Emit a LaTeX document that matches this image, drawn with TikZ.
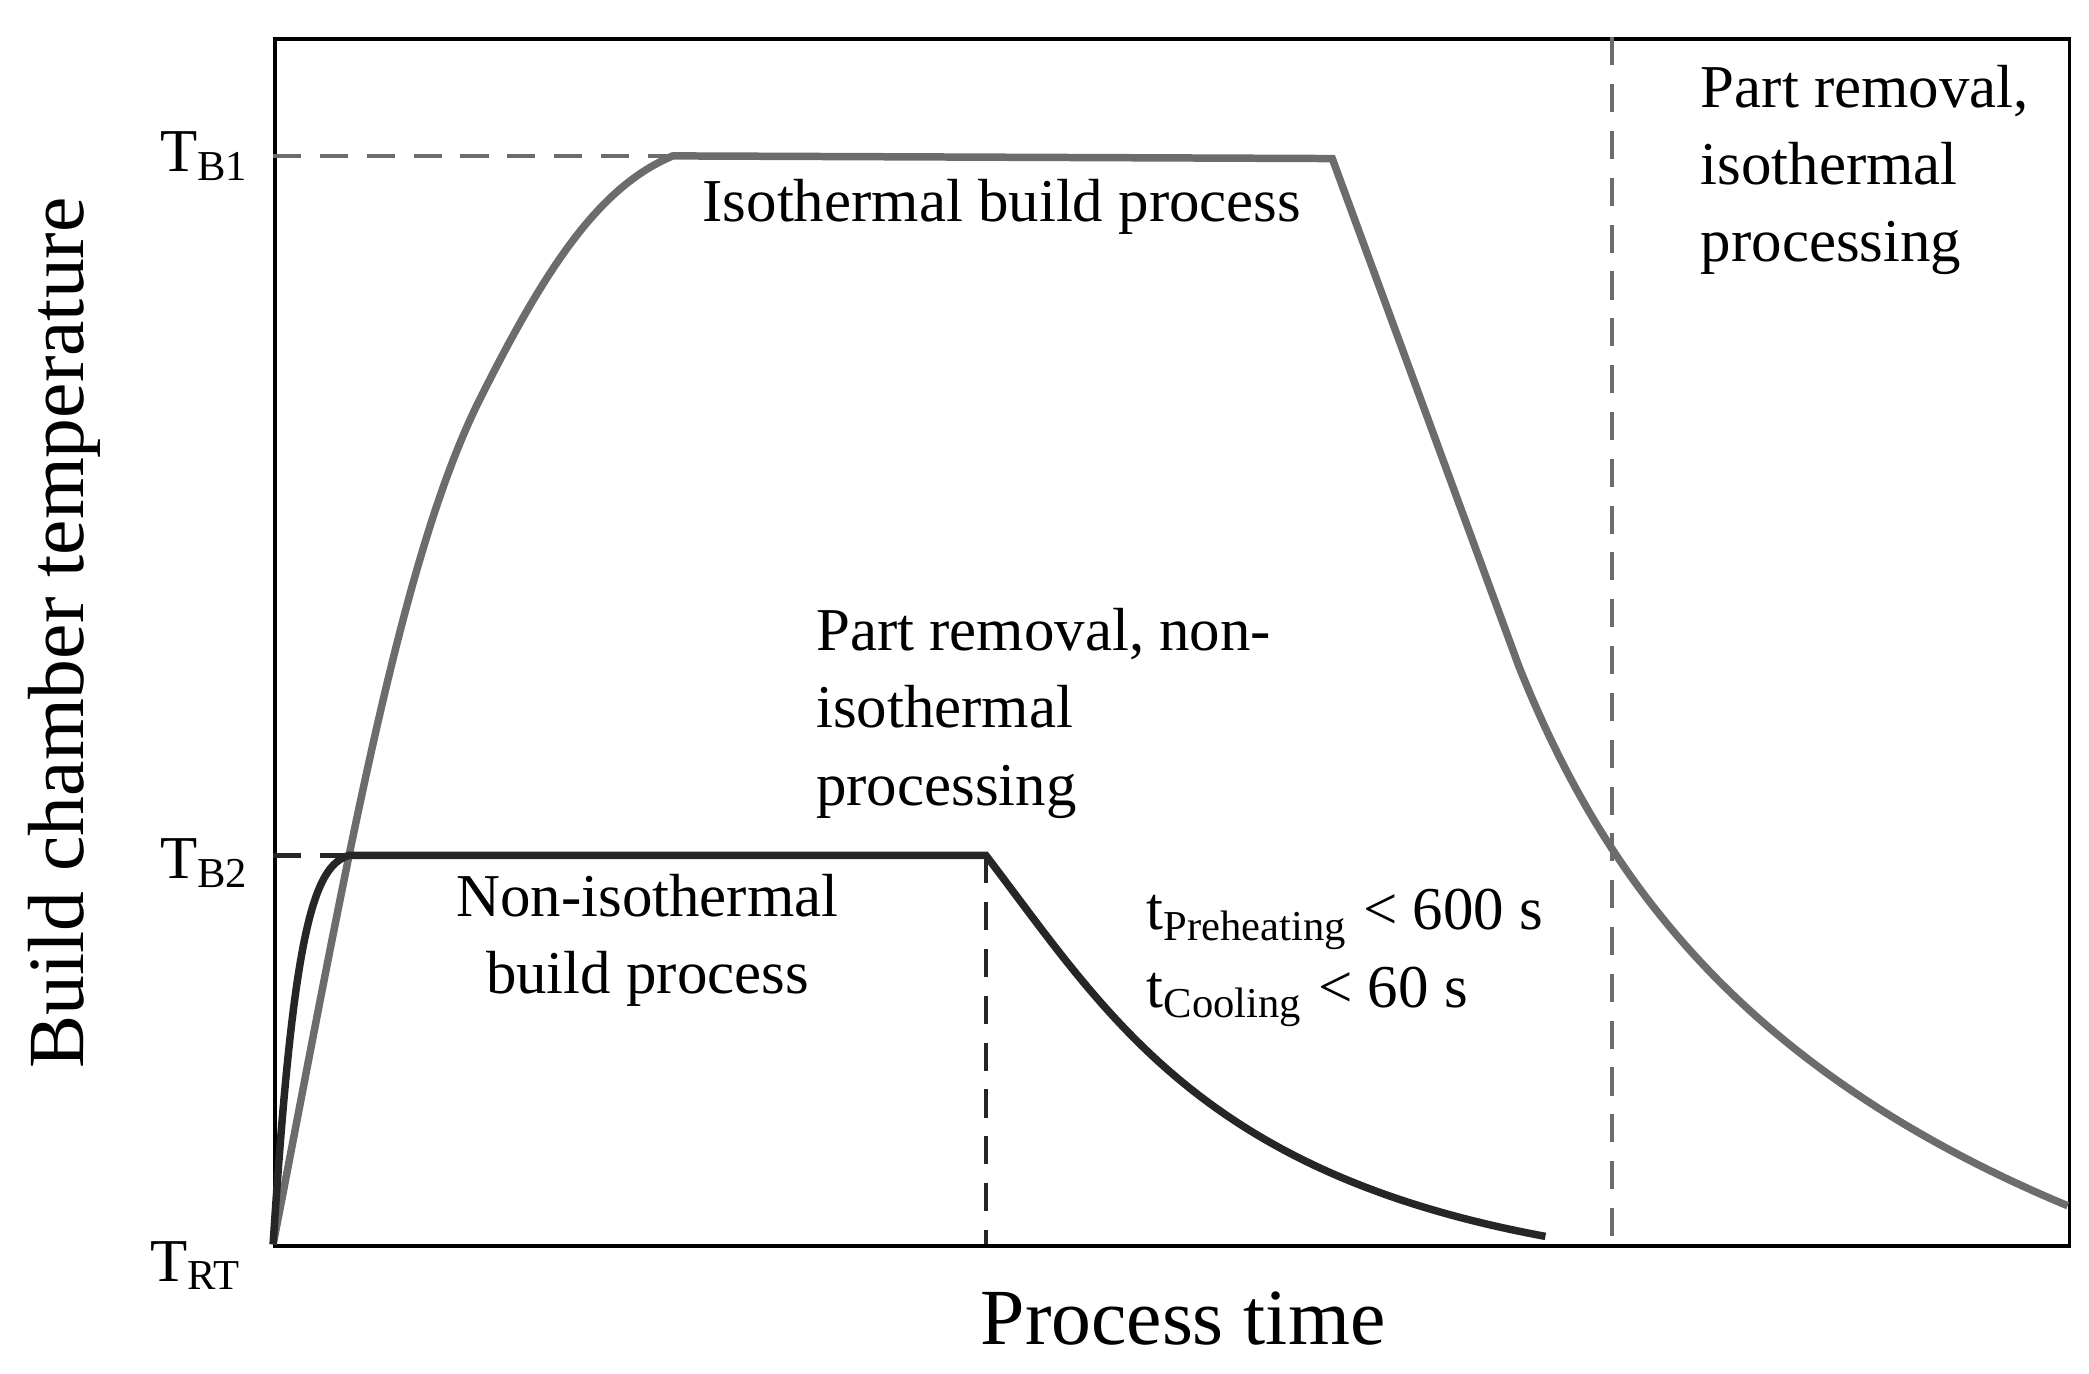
\documentclass[tikz,border=0pt]{standalone}
\usepackage{fontspec}
\setmainfont{Liberation Serif}
\begin{document}
\begin{tikzpicture}[x=0.1mm,y=-0.1mm,
  gcurve/.style={draw=gray!85!black,line width=1.6pt},
  bcurve/.style={draw=black!85,line width=1.6pt},
  gdash/.style={draw=gray!85!black,line width=1pt,dash pattern=on 6pt off 4pt},
  bdash/.style={draw=black!85,line width=1pt,dash pattern=on 6pt off 4pt},
  lab/.style={font=\fontsize{13}{16.5}\selectfont,inner sep=0pt},
  big/.style={font=\fontsize{17}{20}\selectfont,inner sep=0pt}]
\useasboundingbox (0,0) rectangle (1568,1031);
\node[draw=black,line width=0.8pt,inner sep=0pt,minimum width=134.7mm,minimum height=90.6mm,anchor=north west] (box) at (205,28) {};
\coordinate (o) at (205,934);
\coordinate (b1) at (205,117);
\coordinate (p1) at (505,117);
\coordinate (b2) at (205,642);
\coordinate (p2) at (262,642);
\coordinate (e2) at (740,642);
\coordinate (f2) at (740,934);
\coordinate (vt) at (1210,28);
\coordinate (vb) at (1210,934);
\draw[gdash] (b1) -- (p1);
\draw[bdash] (b2) -- (p2);
\draw[bdash] (e2) -- (f2);
\draw[gdash] (vt) -- (vb);
\draw[gcurve] (o) .. controls (260,650) and (300,420) .. (360,300) .. controls (410,200) and (450,140) .. (p1) -- (1000,119) -- (1140,500) .. controls (1200,650) and (1300,800) .. (1552,905);
\draw[bcurve] (o) .. controls (220,700) and (235,650) .. (p2) -- (e2) .. controls (830,760) and (900,880) .. (1160,928);
\node[lab,anchor=east] (tb1) at (188,117) {T\textsubscript{B1}};
\node[lab,anchor=east] (tb2) at (188,648) {T\textsubscript{B2}};
\node[lab,anchor=east] (trt) at (182,950) {T\textsubscript{RT}};
\node[lab] (iso) at (752,155) {Isothermal build process};
\node[lab,anchor=north west,align=left] (pr1) at (1276,48) {Part removal,\\isothermal\\processing};
\node[lab,anchor=north west,align=left] (pr2) at (612,456) {Part removal, non-\\isothermal\\processing};
\node[lab,align=center] (niso) at (486,706) {Non-isothermal\\build process};
\node[lab,anchor=west] (tp) at (860,690) {t\textsubscript{Preheating} < 600 s};
\node[lab,anchor=west] (tc) at (860,748) {t\textsubscript{Cooling} < 60 s};
\node[big] (xl) at (888,990) {Process time};
\node[big,rotate=90] (yl) at (48,475) {Build chamber temperature};
\end{tikzpicture}
\end{document}
